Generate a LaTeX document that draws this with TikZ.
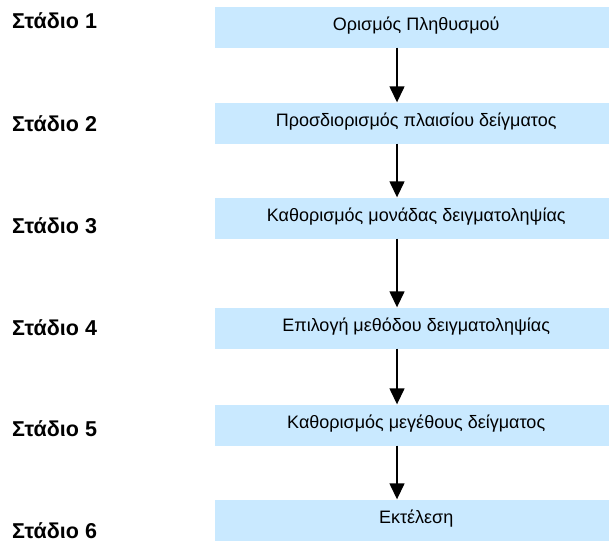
\documentclass[tikz,border=0pt]{standalone}
\usepackage{fontspec}
\setmainfont{Liberation Sans}
\usetikzlibrary{arrows.meta}
\definecolor{boxblue}{RGB}{201,233,255}
\tikzset{
  stagebox/.style={fill=boxblue, draw=none, minimum width=394pt, minimum height=41pt,
    inner sep=0pt, anchor=west},
  boxtext/.style={anchor=base, inner sep=0pt, font=\fontsize{18}{21}\selectfont},
  stagelabel/.style={anchor=base west, inner sep=0pt, font=\bfseries\fontsize{21.5}{25}\selectfont},
  flow/.style={line width=1.4pt, -{Triangle[width=15pt,length=16pt]}}
}
\begin{document}
\begin{tikzpicture}[x=1pt,y=-1pt]
  \useasboundingbox (0,0) rectangle (609,542);
  % process steps
  \node[stagebox] (b1) at (215,27)  {};
  \node[stagebox] (b2) at (215,123) {};
  \node[stagebox] (b3) at (215,218) {};
  \node[stagebox] (b4) at (215,328) {};
  \node[stagebox] (b5) at (215,425) {};
  \node[stagebox] (b6) at (215,520) {};
  % step texts
  \foreach \b/\t in {b1/{Ορισμός Πληθυσμού},
                     b2/{Προσδιορισμός πλαισίου δείγματος},
                     b3/{Καθορισμός μονάδας δειγματοληψίας},
                     b4/{Επιλογή μεθόδου δειγματοληψίας},
                     b5/{Καθορισμός μεγέθους δείγματος},
                     b6/{Εκτέλεση}}{
    \node[boxtext] (\b-text) at ([xshift=4pt,yshift=-3.6pt]\b.center) {\t};
  }
  % stage names
  \node[stagelabel] (s1) at (12,28.3)  {Στάδιο 1};
  \node[stagelabel] (s2) at (12,131.7) {Στάδιο 2};
  \node[stagelabel] (s3) at (12,233)   {Στάδιο 3};
  \node[stagelabel] (s4) at (12,335)   {Στάδιο 4};
  \node[stagelabel] (s5) at (12,436)   {Στάδιο 5};
  \node[stagelabel] (s6) at (12,538)   {Στάδιο 6};
  % arrows between steps
  \foreach \a/\b in {b1/b2,b2/b3,b3/b4,b4/b5,b5/b6}{
    \draw[flow] (\a.south west) ++(182,0) coordinate (\a-out) -- (\a-out |- \b.north);
  }
\end{tikzpicture}
\end{document}
